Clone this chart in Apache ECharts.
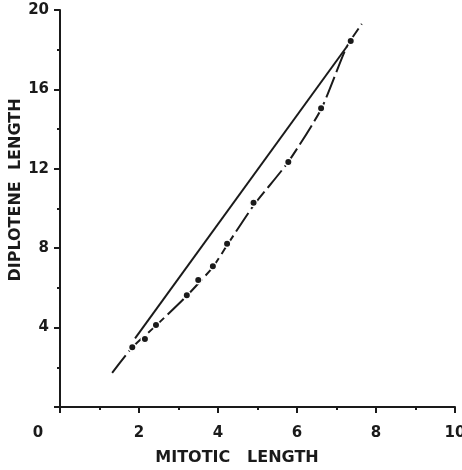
<!DOCTYPE html>
<html>
<head>
<meta charset="utf-8">
<script src="https://cdn.jsdelivr.net/npm/echarts@6/dist/echarts.min.js"></script>
<style>
  html, body { margin: 0; padding: 0; background: #fff; }
  #chart { width: 462px; height: 470px; }
</style>
</head>
<body>
<div id="chart"></div>
<script>
var dotX = [1.83, 2.15, 2.43, 3.21, 3.50, 3.87, 4.23, 4.90, 5.78, 6.61, 7.36];
var dotY = [3.01, 3.43, 4.13, 5.63, 6.40, 7.09, 8.23, 10.29, 12.34, 15.05, 18.44];

// fitted (dashed) curve
var curveX = [1.32, 1.83, 2.43, 3.21, 3.87, 4.23, 4.90, 5.78, 6.61, 7.26, 7.64];
var curveY = [1.72, 3.00, 4.10, 5.60, 7.05, 8.15, 10.15, 12.35, 15.00, 18.15, 19.30];

// straight (solid) line
var lineX = [1.90, 7.26];
var lineY = [3.46, 18.15];

var xTicks = [0, 2, 4, 6, 8, 10];
var yTicks = [0, 4, 8, 12, 16, 20];

function pairs(xs, ys) {
  return xs.map(function (x, i) { return [x, ys[i]]; });
}

var ink = '#1a1a1a';
var font = 'DejaVu Sans';

var myChart = echarts.init(document.getElementById('chart'), null, { renderer: 'canvas' });

var option = {
  backgroundColor: '#fff',
  animation: false,
  grid: { left: 60, right: 7, top: 10, bottom: 63, outerBoundsMode: 'none', containLabel: false },
  xAxis: {
    type: 'value',
    min: xTicks[0],
    max: xTicks[xTicks.length - 1],
    interval: 2,
    axisLine: { onZero: false, lineStyle: { color: ink, width: 2 } },
    axisTick: { length: 6, lineStyle: { color: ink, width: 2 } },
    minorTick: { show: true, splitNumber: 2, length: 3, lineStyle: { color: ink, width: 2 } },
    splitLine: { show: false },
    axisLabel: {
      margin: 19,
      color: ink,
      fontFamily: font,
      fontWeight: 'bold',
      fontSize: 15,
      hideOverlap: false,
      formatter: function (v) { return v === 0 ? '{o|0}' : String(v); },
      rich: { o: { padding: [0, 44, 0, 0], color: ink, fontFamily: font, fontWeight: 'bold', fontSize: 15 } }
    }
  },
  yAxis: {
    type: 'value',
    min: yTicks[0],
    max: yTicks[yTicks.length - 1],
    interval: 4,
    axisLine: { onZero: false, lineStyle: { color: ink, width: 2 } },
    axisTick: { length: 6, lineStyle: { color: ink, width: 2 } },
    minorTick: { show: true, splitNumber: 2, length: 3, lineStyle: { color: ink, width: 2 } },
    splitLine: { show: false },
    axisLabel: {
      margin: 11,
      color: ink,
      fontFamily: font,
      fontWeight: 'bold',
      fontSize: 15,
      formatter: function (v) { return v === 0 ? '' : String(v); }
    }
  },
  graphic: [
    {
      type: 'text',
      x: 237, y: 458,
      style: {
        text: 'MITOTIC   LENGTH',
        fill: ink,
        font: 'bold 16px "DejaVu Sans"',
        textAlign: 'center',
        textVerticalAlign: 'middle'
      }
    },
    {
      type: 'text',
      x: 16, y: 190,
      rotation: Math.PI / 2,
      style: {
        text: 'DIPLOTENE  LENGTH',
        fill: ink,
        font: 'bold 16px "DejaVu Sans"',
        textAlign: 'center',
        textVerticalAlign: 'middle'
      }
    }
  ],
  series: [
    {
      type: 'line',
      data: pairs(lineX, lineY),
      showSymbol: false,
      lineStyle: { color: ink, width: 2 },
      z: 2
    },
    {
      type: 'line',
      data: pairs(curveX, curveY),
      showSymbol: false,
      smooth: 0.2,
      lineStyle: { color: ink, width: 2, type: [22, 5] },
      z: 2
    },
    {
      type: 'scatter',
      data: pairs(dotX, dotY),
      symbolSize: 7.5,
      itemStyle: { color: ink, borderColor: '#fff', borderWidth: 1.5, opacity: 1 },
      z: 3
    }
  ]
};

myChart.setOption(option);
</script>
</body>
</html>
